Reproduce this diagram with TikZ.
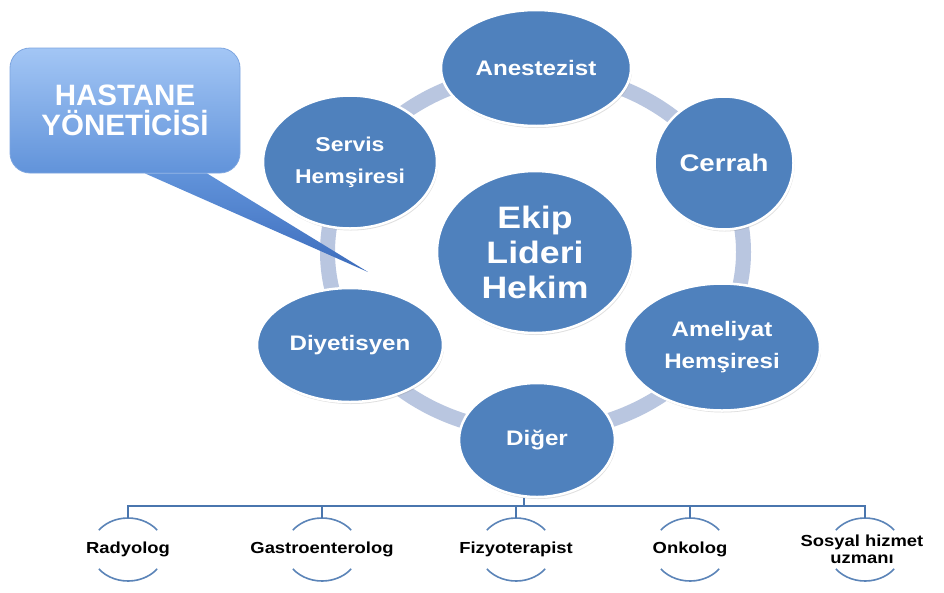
\documentclass[tikz,border=0pt]{standalone}
\usepackage{fontspec}
\setmainfont{Liberation Sans}[FakeStretch=1.15]
\newfontfamily\callfont{Liberation Sans}
\usetikzlibrary{shapes.geometric,shadows,calc}
\definecolor{nodeblue}{HTML}{4F81BD}
\definecolor{ringc}{HTML}{B9C6E0}
\definecolor{treec}{HTML}{4A76AE}
\definecolor{arcc}{HTML}{5B84B8}
\definecolor{calltop}{HTML}{A3C6F5}
\definecolor{callbot}{HTML}{6193DA}
\definecolor{tailtip}{HTML}{3C6CBC}
\definecolor{calledge}{HTML}{7EA6E0}
\begin{document}
\begin{tikzpicture}[x=1pt,y=-1pt,
  bub/.style={ellipse, fill=nodeblue, draw=white, line width=2.5pt, inner sep=0pt,
    text=white, font=\bfseries\fontsize{21}{32}\selectfont, align=center,
    drop shadow={opacity=0.25, shadow xshift=1pt, shadow yshift=-2pt}},
  leafring/.style={ellipse, inner sep=0pt, minimum width=74pt, minimum height=63pt},
  leaftext/.style={inner sep=0pt, font=\bfseries\fontsize{16}{17}\selectfont, align=center, text=black},
  tree/.style={draw=treec, line width=2.2pt},
  arcst/.style={draw=arcc, line width=1.6pt},
  ringst/.style={draw=ringc, line width=15pt},
  callbox/.style={rectangle, rounded corners=20pt, minimum width=230pt, minimum height=125pt,
    top color=calltop, bottom color=callbot, draw=calledge, line width=0.8pt,
    text=white, align=center, font=\callfont\bfseries\fontsize{29.5}{30}\selectfont}]
\useasboundingbox (0,0) rectangle (944,592);
\fill[white] (0,0) rectangle (944,592);
% ring
\draw[ringst] (535.5,252) ellipse [x radius=208pt, y radius=180pt];
% nodes
\node[bub, minimum width=196pt, minimum height=162pt, font=\bfseries\fontsize{31}{35}\selectfont] (lead) at (535,252) {Ekip\\Lideri\\Hekim};
\node[bub, minimum width=190pt, minimum height=116pt] (anes) at (536,68) {Anestezist};
\node[bub, minimum width=139pt, minimum height=133pt, font=\bfseries\fontsize{24}{30}\selectfont] (cerr) at (724,163) {Cerrah};
\node[bub, minimum width=196pt, minimum height=127pt] (amel) at (722,347) {Ameliyat\\Hemşiresi};
\node[bub, minimum width=156pt, minimum height=114pt] (dig) at (537,440) {Diğer};
\node[bub, minimum width=186pt, minimum height=114pt] (diy) at (350,345) {Diyetisyen};
\node[bub, minimum width=174pt, minimum height=133pt, font=\bfseries\fontsize{20}{32}\selectfont] (serv) at (350,162) {Servis\\Hemşiresi};
% callout
\node[callbox] (hy) at (125,110.5) {HASTANE\\YÖNETİCİSİ};
\coordinate (tip) at (368,272);
\shade[top color=callbot, bottom color=tailtip] ([xshift=20pt]hy.south) -- (tip) -- ([xshift=82pt]hy.south) -- cycle;
% leaves
\node[leafring] (rad) at (128,549.5) {};
\node[leafring] (gas) at (322,549.5) {};
\node[leafring] (fiz) at (516,549.5) {};
\node[leafring] (onk) at (690,549.5) {};
\node[leafring] (sos) at (865,549.5) {};
\node[leaftext] (radt) at (rad) {Radyolog};
\node[leaftext] (gast) at (gas) {Gastroenterolog};
\node[leaftext] (fizt) at (fiz) {Fizyoterapist};
\node[leaftext] (onkt) at (onk) {Onkolog};
\node[leaftext] (sost) at (862,549.5) {Sosyal hizmet\\uzmanı};
\foreach \n in {rad,gas,fiz,onk,sos}{
  \draw[arcst] ($(\n.center)+(38:37pt and 31.5pt)$) arc[start angle=38, end angle=142, x radius=37pt, y radius=31.5pt];
  \draw[arcst] ($(\n.center)+(218:37pt and 31.5pt)$) arc[start angle=218, end angle=322, x radius=37pt, y radius=31.5pt];
}
% tree connectors
\coordinate (dgb) at ([xshift=-13pt]dig.south);
\coordinate (bus) at ($(dgb)+(0,7.5)$);
\foreach \n in {rad,gas,fiz,onk,sos}{
  \draw[tree] (dgb) -- (bus) -| (\n.north);
}
\end{tikzpicture}
\end{document}
